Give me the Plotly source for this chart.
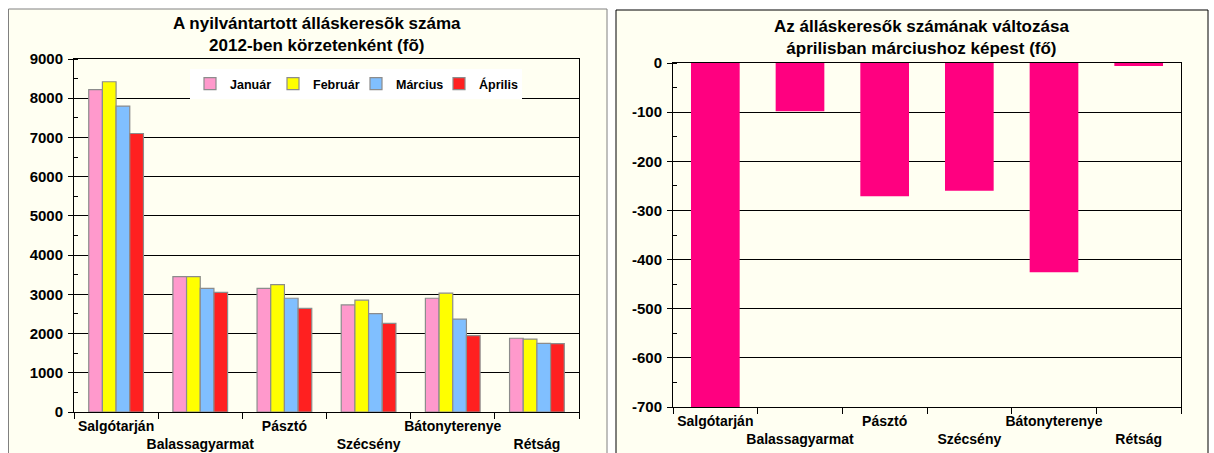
import plotly.graph_objects as go

W, H = 1214, 453

categories = ["Salgótarján", "Balassagyarmat", "Pásztó", "Szécsény", "Bátonyterenye", "Rétság"]
months = ["Január", "Február", "Március", "Április"]
januar = [8220, 3450, 3150, 2730, 2900, 1880]
februar = [8420, 3450, 3245, 2850, 3030, 1860]
marcius = [7800, 3150, 2900, 2510, 2370, 1750]
aprilis = [7100, 3050, 2640, 2260, 1945, 1745]
valtozas = [-700, -98, -271, -260, -426, -6]

left_ticks = list(range(0, 9001, 1000))
right_ticks = list(range(-700, 1, 100))

month_colors = ["#FF99CC", "#FFFF00", "#80BFFF", "#FF2020"]
change_color = "#FF0080"

# staggered category labels (every second one on a second line)
stagger = [c if i % 2 == 0 else "<br>" + c for i, c in enumerate(categories)]

FONT = "Liberation Sans, Arial, sans-serif"

fig = go.Figure()
for name, vals, col in zip(months, [januar, februar, marcius, aprilis], month_colors):
    fig.add_trace(go.Bar(
        x=categories, y=vals, name=name, marker_color=col,
        marker_line_color="#8C8C8C", marker_line_width=1.2,
        xaxis="x", yaxis="y",
    ))

fig.add_trace(go.Bar(
    x=categories, y=valtozas, name="Változás", marker_color=change_color,
    marker_line_width=0, width=0.575, showlegend=False,
    xaxis="x2", yaxis="y2",
))

def px_x(v):
    return v / W

def px_y(v):
    return 1 - v / H

xfont = dict(family=FONT, size=14, color="#000000", weight="bold")
yfont = dict(family=FONT, size=15, color="#000000", weight="bold")

common_x = dict(
    type="category", categoryorder="array", categoryarray=categories,
    tickmode="array", tickvals=categories, ticktext=stagger, tickangle=0,
    tickson="boundaries", ticks="outside", ticklen=6, tickcolor="#000",
    showline=True, linecolor="#000", linewidth=1, mirror=True,
    showgrid=False, tickfont=xfont, automargin=False, ticklabelstandoff=1,
)
common_y = dict(
    tickmode="array", ticks="outside", ticklen=5, tickcolor="#000",
    showline=True, linecolor="#000", linewidth=1, mirror=True,
    showgrid=True, gridcolor="#000000", gridwidth=1, zeroline=False,
    tickfont=yfont, automargin=False, ticklabelstandoff=2,
)

fig.update_layout(
    width=W, height=H,
    margin=dict(l=0, r=0, t=0, b=0, autoexpand=False),
    paper_bgcolor="#FFFFFF", plot_bgcolor="#FFFFFF",
    barmode="group", bargap=0.35, bargroupgap=0,
    font=dict(family=FONT, size=12, color="#000"),
    xaxis=dict(domain=[px_x(74), px_x(579)], anchor="y", **common_x),
    yaxis=dict(domain=[px_y(412), px_y(59)], anchor="x", range=[0, 9000],
               tickvals=left_ticks, ticktext=[str(v) for v in left_ticks],
               minor=dict(dtick=500, ticks="inside", ticklen=4, tickcolor="#000", showgrid=False),
               **common_y),
    xaxis2=dict(domain=[px_x(673), px_x(1181)], anchor="y2", **common_x),
    yaxis2=dict(domain=[px_y(407), px_y(63)], anchor="x2", range=[-700, 0],
                tickvals=right_ticks, ticktext=[str(v) for v in right_ticks],
                minor=dict(dtick=50, ticks="inside", ticklen=4, tickcolor="#000", showgrid=False),
                **common_y),
    legend=dict(
        orientation="h", x=px_x(190), y=px_y(69), xanchor="left", yanchor="top",
        bgcolor="#FFFFFF", font=dict(family=FONT, size=12.5, color="#000", weight="bold"),
        entrywidth=38, entrywidthmode="pixels", itemwidth=30,
        traceorder="normal",
    ),
    shapes=[
        dict(type="rect", xref="paper", yref="paper", x0=px_x(8.5), x1=px_x(607),
             y0=-0.02, y1=px_y(9), fillcolor="#FFFFF2", line=dict(color="#808080", width=1),
             layer="below"),
        dict(type="rect", xref="paper", yref="paper", x0=px_x(616), x1=px_x(1208),
             y0=-0.02, y1=px_y(10), fillcolor="#FFFFF2", line=dict(color="#000000", width=1),
             layer="below"),
    ],
    annotations=[
        dict(text="<b>A nyilvántartott álláskeresõk száma<br>2012-ben körzetenként (fõ)</b>",
             xref="paper", yref="paper", x=px_x(317), y=px_y(35), xanchor="center", yanchor="middle",
             showarrow=False, font=dict(family=FONT, size=17, color="#000")),
        dict(text="<b>Az álláskeresők számának változása<br>áprilisban márciushoz képest (fő)</b>",
             xref="paper", yref="paper", x=px_x(921), y=px_y(38), xanchor="center", yanchor="middle",
             showarrow=False, font=dict(family=FONT, size=17, color="#000")),
    ],
)

fig.write_html("out.html", config={"displayModeBar": False},
               post_script="document.body.style.margin='0';document.body.style.padding='0';")
